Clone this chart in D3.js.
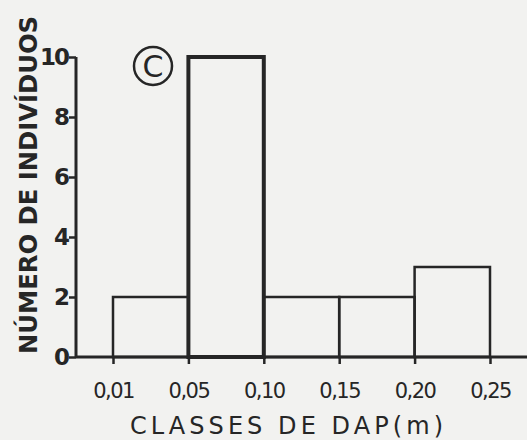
<!DOCTYPE html>
<html>
<head>
<meta charset="utf-8">
<script src="https://cdn.jsdelivr.net/npm/d3@7/dist/d3.min.js"></script>
<style>
  body { margin: 0; background: #f2f2f0; }
  svg { display: block; }
</style>
</head>
<body>
<div id="chart"></div>
<script>
(function() {

  // class boundaries (m) and counts per class
  var bounds = ['0,01', '0,05', '0,10', '0,15', '0,20', '0,25'];
  var counts = [2, 10, 2, 2, 3];
  var yTicks = [0, 2, 4, 6, 8, 10];

  var width = 527, height = 440,
      ink = '#262626';

  var svg = d3.select('#chart')
    .append('svg')
    .attr('width', width)
    .attr('height', height);

  var x = d3.scaleLinear()
    .domain([0, bounds.length - 1])
    .range([113, 490]);

  var y = d3.scaleLinear()
    .domain([0, 10])
    .range([357, 57]);

  // bars
  svg.selectAll('rect.bar')
    .data(counts)
    .enter()
    .append('rect')
    .attr('class', 'bar')
    .attr('x', function(d, i) { return x(i); })
    .attr('y', function(d) { return y(d); })
    .attr('width', function(d, i) { return x(i + 1) - x(i); })
    .attr('height', function(d) { return y(0) - y(d); })
    .attr('fill', 'none')
    .attr('stroke', ink)
    .attr('stroke-width', function(d) { return d === 10 ? 4 : 2.5; });

  // x axis line runs off the right edge
  svg.append('line')
    .attr('x1', 76).attr('x2', width)
    .attr('y1', y(0)).attr('y2', y(0))
    .attr('stroke', ink)
    .attr('stroke-width', 3);

  var xAxis = svg.append('g')
    .attr('transform', 'translate(0,' + y(0) + ')')
    .call(d3.axisBottom(x)
      .tickValues(d3.range(bounds.length))
      .tickFormat(function(i) { return bounds[i]; })
      .tickSize(7)
      .tickPadding(19));
  xAxis.select('.domain').remove();
  xAxis.selectAll('line').attr('stroke', ink).attr('stroke-width', 2.5);
  xAxis.selectAll('text')
    .style('font-family', '"DejaVu Sans", sans-serif')
    .style('font-size', '21px')
    .style('letter-spacing', '-1.5px')
    .attr('fill', ink);

  var yAxis = svg.append('g')
    .attr('transform', 'translate(76,0)')
    .call(d3.axisLeft(y)
      .tickValues(yTicks)
      .tickSize(7)
      .tickPadding(1));
  yAxis.select('.domain').attr('stroke', ink).attr('stroke-width', 3)
    .attr('d', 'M0,' + y(0) + 'V' + y(10));
  yAxis.selectAll('line').attr('stroke', ink).attr('stroke-width', 2.5);
  yAxis.selectAll('text')
    .style('font-family', '"DejaVu Sans", sans-serif')
    .style('font-size', '23px')
    .style('font-weight', 'bold')
    .style('letter-spacing', '-2px')
    .attr('fill', ink);

  // axis titles
  svg.append('text')
    .attr('x', 130)
    .attr('y', 434)
    .attr('textLength', 313)
    .attr('lengthAdjust', 'spacing')
    .style('font-family', '"DejaVu Sans", sans-serif')
    .style('font-size', '24px')
    .attr('fill', ink)
    .text('CLASSES DE DAP(m)');

  svg.append('text')
    .attr('transform', 'translate(37,354) rotate(-90)')
    .attr('textLength', 338)
    .attr('lengthAdjust', 'spacingAndGlyphs')
    .style('font-family', '"DejaVu Sans", sans-serif')
    .style('font-size', '24px')
    .style('font-weight', 'bold')
    .attr('fill', ink)
    .text('NÚMERO DE INDIVÍDUOS');

  // panel letter
  svg.append('circle')
    .attr('cx', 153).attr('cy', 66).attr('r', 19)
    .attr('fill', 'none')
    .attr('stroke', ink)
    .attr('stroke-width', 2.5);

  svg.append('text')
    .attr('x', 153).attr('y', 77)
    .attr('text-anchor', 'middle')
    .style('font-family', '"DejaVu Sans", sans-serif')
    .style('font-size', '30px')
    .attr('fill', ink)
    .text('C');

})();
</script>
</body>
</html>
